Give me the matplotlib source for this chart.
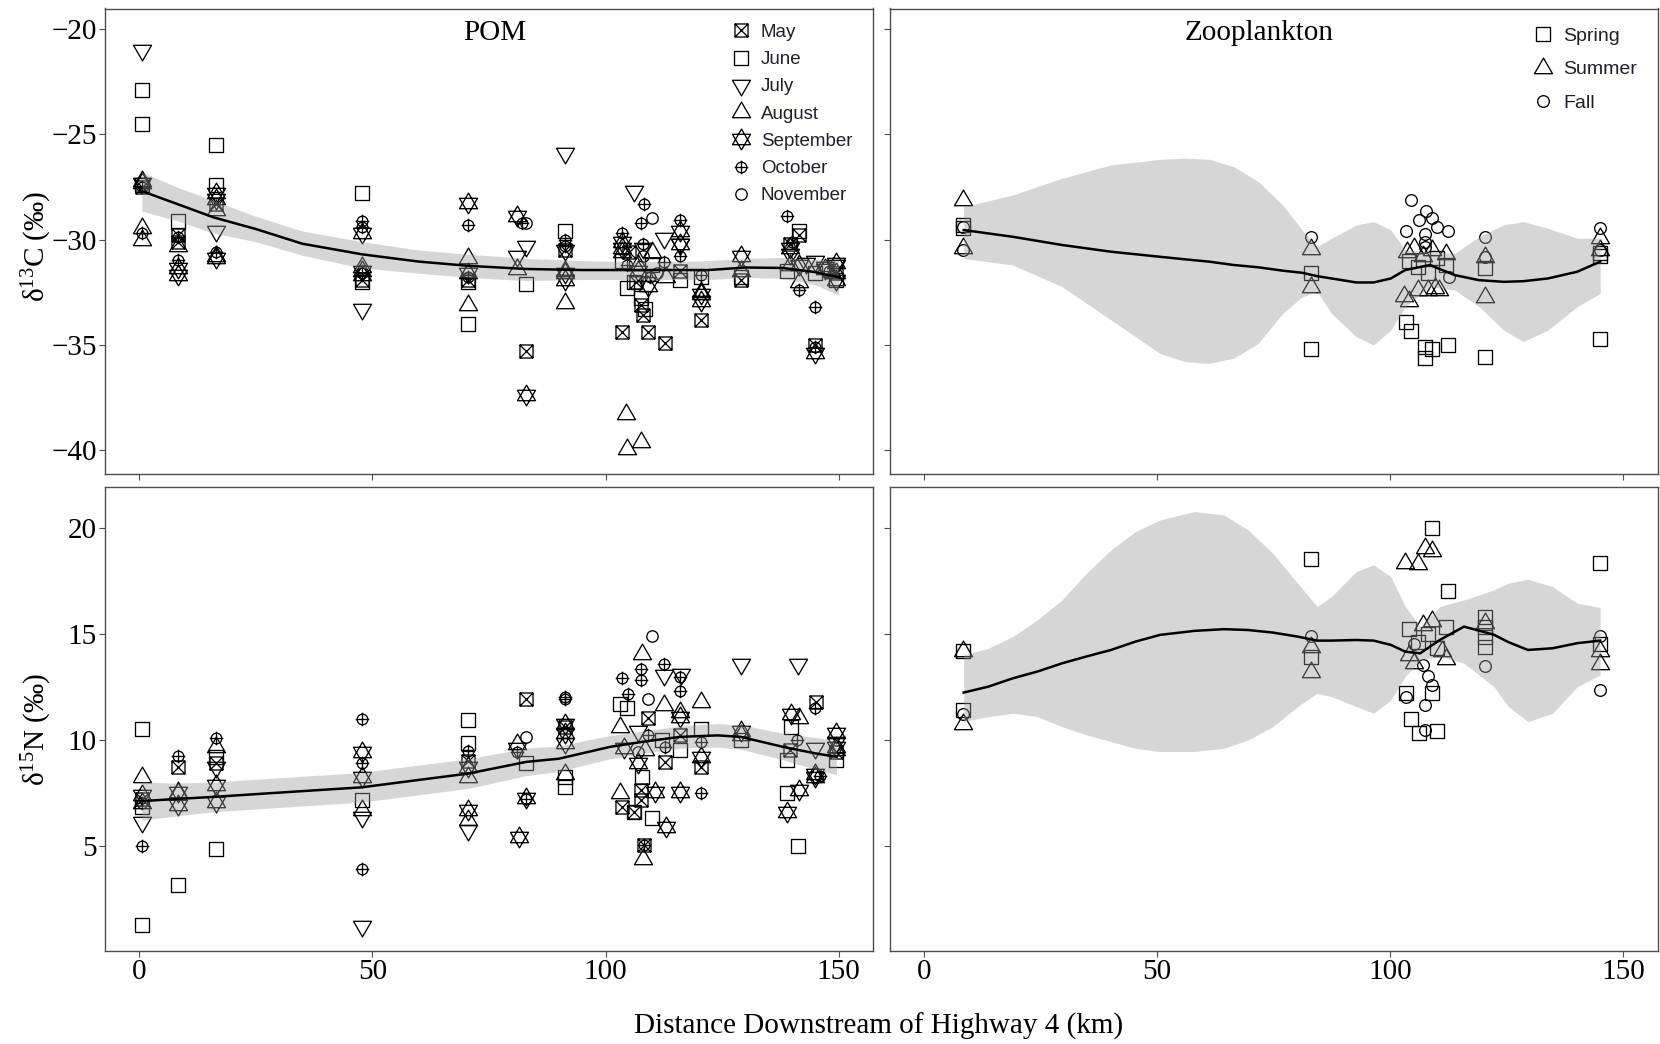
import matplotlib
matplotlib.use('Agg')
import matplotlib.pyplot as plt
from matplotlib.path import Path
from matplotlib.lines import Line2D
from matplotlib.transforms import Affine2D

plt.rcParams['font.family'] = ['Liberation Serif', 'DejaVu Serif']
plt.rcParams['mathtext.fontset'] = 'custom'
plt.rcParams['mathtext.rm'] = 'Liberation Serif'
plt.rcParams['mathtext.it'] = 'Liberation Serif:italic'

# ---------------- POM d13C (km, value) ----------------
pom_c_may = [(0.6, -27.5), (8.3, -29.8), (8.3, -30.1), (16.4, -28.3), (47.7, -31.9), (70.6, -31.9),
             (83, -35.3), (91.4, -30.5), (103.5, -34.4), (105, -30.6), (106.5, -32.0), (107.5, -33.1),
             (108, -33.6), (109, -34.4), (112.7, -34.9), (116, -31.5), (120.5, -33.8), (129, -31.9),
             (139.5, -30.2), (141.5, -29.8), (145, -35.0), (149.5, -31.6)]
pom_c_jun = [(0.6, -22.9), (0.6, -24.5), (0.6, -27.4), (8.3, -29.1), (16.4, -25.5), (16.4, -27.4),
             (47.7, -27.8), (47.7, -32.0), (70.6, -34.0), (70.6, -32.0), (83, -32.1), (91.4, -29.6),
             (103.5, -31.0), (104.5, -32.3), (106, -32.0), (107.5, -32.8), (108.5, -33.3), (110, -31.2),
             (116, -31.9), (120.5, -31.8), (129, -31.8), (139, -31.5), (141.5, -29.6), (145, -31.6),
             (149.5, -31.9)]
pom_c_jul = [(0.6, -21.0), (16.4, -29.6), (47.7, -33.3), (81, -30.8), (83, -30.3), (91.4, -25.9),
             (91.4, -30.5), (106, -27.7), (108, -30.4), (112.6, -29.95), (116, -30.2), (139.5, -30.7),
             (143, -31.1), (145, -31.0), (147, -31.3), (149.5, -31.2)]
pom_c_aug = [(0.6, -27.2), (0.6, -29.45), (0.6, -30.0), (8.3, -30.3), (16.4, -28.6), (16.4, -30.8),
             (47.7, -31.3), (47.7, -31.7), (70.6, -30.9), (70.6, -33.1), (81, -31.4), (91.4, -33.0),
             (91.4, -31.5), (103.5, -30.6), (104.3, -38.3), (104.5, -39.95), (107.7, -39.6), (107, -31.2),
             (110, -30.6), (113, -31.8), (120.5, -32.5), (129, -31.5), (139.5, -31.2), (141.5, -32.0),
             (149.5, -31.6)]
pom_c_sep = [(0.6, -27.3), (8.3, -31.35), (8.3, -31.7), (16.4, -27.8), (16.4, -28.1), (16.4, -30.9),
             (47.7, -29.7), (47.7, -31.5), (70.6, -28.25), (70.6, -31.6), (81, -28.9), (83, -37.4),
             (91.4, -31.6), (91.4, -31.9), (103.5, -30.1), (103.5, -30.4), (107, -31.5), (109, -32.2),
             (116, -29.6), (116, -30.2), (120.5, -32.6), (120.5, -32.9), (129, -30.8), (139.5, -30.4),
             (141.5, -31.2), (145, -35.4), (147, -31.4), (149.5, -31.1), (149.5, -31.9)]
pom_c_oct = [(0.6, -27.5), (0.6, -29.7), (8.3, -29.9), (8.3, -30.97), (16.4, -30.6), (47.7, -29.1),
             (47.7, -29.4), (47.7, -31.6), (70.6, -29.3), (70.6, -31.8), (82, -29.2), (91.4, -30.0),
             (91.4, -30.3), (103.5, -29.7), (104.5, -31.2), (107.5, -29.2), (108.2, -28.3), (108, -30.2),
             (109.5, -31.8), (112.6, -31.05), (116, -29.07), (116, -30.8), (120.5, -31.7), (139, -28.9),
             (140, -30.1), (141.5, -32.4), (145, -33.2), (145, -35.1), (148, -31.5)]
pom_c_nov = [(83, -29.2), (110, -29.0), (108, -30.8), (111, -31.6)]

# ---------------- POM d15N (km, value) ----------------
pom_n_may = [(0.6, 7.2), (8.3, 8.69), (16.4, 8.9), (70.6, 9.0), (83, 11.93), (91.4, 10.6), (103.5, 6.8),
             (106, 6.6), (107.5, 7.62), (107.5, 7.15), (108.2, 5.04), (109, 11.0), (112.7, 8.95),
             (116, 10.2), (120.5, 8.72), (139.5, 9.5), (145.1, 11.77), (149.5, 9.4)]
pom_n_jun = [(0.6, 10.52), (0.6, 6.8), (0.6, 1.27), (8.3, 3.15), (16.4, 9.19), (16.4, 4.85), (47.7, 7.15),
             (70.6, 10.94), (70.6, 9.84), (83, 8.88), (91.4, 8.25), (91.4, 7.78), (103, 11.7),
             (104.5, 11.48), (106, 6.6), (107.9, 8.25), (110, 6.29), (112, 10.0), (116, 9.5),
             (120.5, 10.52), (129, 10.0), (139, 9.03), (139, 7.47), (139.7, 10.6), (141.2, 4.99),
             (149.5, 9.03)]
pom_n_jul = [(0.6, 6.13), (16.4, 8.72), (47.7, 6.37), (47.7, 1.2), (70.6, 5.74), (81, 9.6), (107, 10.4),
             (112.5, 13.03), (116.1, 13.1), (129, 13.58), (141.2, 13.58), (145, 9.6), (149.5, 9.9)]
pom_n_aug = [(0.6, 8.25), (0.6, 7.0), (8.3, 7.5), (16.4, 9.66), (47.7, 6.68), (70.6, 8.25), (70.6, 6.2),
             (81, 9.8), (91.4, 8.4), (103, 10.6), (103, 7.47), (107.9, 14.05), (108, 4.36), (108.5, 9.5),
             (112.5, 11.62), (116, 11.3), (120.5, 11.77), (129, 10.2), (141.5, 11.0), (149.5, 9.5)]
pom_n_sep = [(0.6, 7.4), (8.3, 7.54), (8.3, 6.92), (16.4, 7.86), (16.4, 7.07), (47.7, 9.42), (47.7, 8.25),
             (70.6, 8.72), (70.6, 6.68), (81.5, 5.43), (83, 7.23), (91.4, 10.75), (91.4, 10.3),
             (91.4, 9.83), (104, 9.6), (107, 8.9), (110.7, 7.54), (113, 5.9), (116, 11.07), (116, 7.54),
             (120.5, 9.19), (129, 10.4), (139.7, 11.2), (139, 6.6), (141.5, 7.62), (145, 8.4),
             (145, 8.25), (149.4, 10.29), (149.4, 9.66)]
pom_n_oct = [(0.6, 4.99), (0.6, 7.0), (8.3, 9.22), (16.4, 10.1), (47.7, 10.99), (47.7, 8.9), (47.7, 3.89),
             (70.6, 9.46), (81, 9.4), (83, 7.2), (91.4, 12.0), (91.4, 11.9), (103.6, 12.92),
             (104.8, 12.17), (107.5, 13.34), (107.5, 12.79), (108.2, 5.04), (109, 10.2), (112.5, 13.58),
             (112.7, 9.66), (116, 12.95), (116, 12.3), (120.5, 9.9), (120.5, 7.47), (141, 10.0),
             (145, 11.5), (146, 8.3)]
pom_n_nov = [(83, 10.13), (110, 14.91), (109, 11.9), (107, 9.4)]

# ---------------- Zooplankton (km, value) ----------------
zoo_c_spring = [(8.3, -29.3), (8.3, -29.45), (83, -31.58), (83, -35.2), (103.3, -33.93), (104.4, -34.35),
                (107.4, -35.09), (109, -35.22), (112.4, -35.01), (107.4, -35.65), (104, -31.0),
                (106, -31.3), (108, -31.6), (110, -30.9), (112, -31.2), (120.3, -31.37), (120.3, -35.57),
                (145, -30.65), (145, -30.8), (145, -34.73)]
zoo_c_summer = [(8.3, -28.12), (8.3, -30.42), (83, -30.45), (83, -32.24), (103.5, -30.6), (105, -30.4),
                (107, -30.8), (109, -30.5), (112, -30.7), (103, -32.7), (104, -32.9), (106, -32.4),
                (108, -32.4), (109.5, -32.3), (110.5, -32.4), (120.3, -30.82), (120.3, -32.72),
                (145, -29.94), (145, -30.5)]
zoo_c_fall = [(8.3, -29.4), (8.3, -30.5), (83, -29.87), (104.5, -28.12), (107.6, -28.65), (106.1, -29.07),
              (109, -28.99), (110, -29.39), (103.4, -29.6), (112.4, -29.6), (107.5, -29.74),
              (107.5, -30.1), (107.5, -30.34), (112.5, -31.8), (120.3, -29.87), (120.3, -30.82),
              (145, -29.47), (145, -30.5)]
zoo_n_spring = [(8.3, 14.2), (8.3, 11.38), (83, 18.54), (83, 13.89), (109, 19.97), (112.4, 17.02),
                (103.4, 12.2), (109, 12.2), (104.4, 10.99), (106.1, 10.31), (110, 10.39), (104, 15.2),
                (106, 14.6), (108, 15.0), (110, 14.3), (112, 15.3), (120.3, 15.77), (120.3, 15.3),
                (120.3, 14.83), (120.3, 14.36), (145, 18.31), (145, 14.52)]
zoo_n_summer = [(8.3, 14.2), (8.3, 10.76), (83, 14.36), (83, 13.18), (107.4, 19.06), (109, 18.9),
                (103.2, 18.35), (106, 18.28), (104, 14.0), (105, 13.6), (107, 15.4), (109, 15.6),
                (111, 14.2), (112, 13.8), (120.3, 15.5), (145, 14.2), (145, 13.58)]
zoo_n_fall = [(8.3, 11.2), (83, 14.91), (103.4, 12.0), (107.5, 11.62), (107.4, 10.45), (105, 14.5),
              (107, 13.5), (108, 13.0), (109, 12.6), (120.3, 13.45), (145, 14.91), (145, 12.32)]

# ---------------- smoother fits (km, fit, lower, upper) ----------------
pom_c_km = [0.6, 8, 16, 25, 35, 47.7, 60, 70.6, 83, 95, 105, 115, 122, 130, 138, 145, 150]
pom_c_fit = [-27.7, -28.3, -28.95, -29.5, -30.2, -30.7, -31.05, -31.25, -31.4, -31.45, -31.45, -31.45,
             -31.45, -31.33, -31.35, -31.55, -31.8]
pom_c_lo = [-28.65, -29.1, -29.7, -30.1, -30.75, -31.35, -31.6, -31.8, -31.95, -31.9, -31.9, -31.9,
            -31.9, -31.8, -31.85, -32.15, -32.65]
pom_c_hi = [-26.8, -27.5, -28.15, -28.9, -29.6, -30.1, -30.5, -30.7, -30.9, -31.0, -31.05, -31.05,
            -31.0, -30.9, -30.85, -30.95, -31.0]

pom_n_km = [0.6, 8, 16, 30, 47.7, 60, 70.6, 83, 90, 101, 108, 116, 124, 129, 138, 145, 149.5]
pom_n_fit = [7.1, 7.2, 7.3, 7.5, 7.75, 8.1, 8.4, 8.95, 9.1, 9.66, 9.9, 10.13, 10.2, 10.13, 9.66, 9.35, 9.19]
pom_n_lo = [6.2, 6.4, 6.6, 6.8, 7.05, 7.4, 7.7, 8.3, 8.5, 9.1, 9.35, 9.6, 9.65, 9.55, 9.05, 8.6, 8.35]
pom_n_hi = [8.0, 7.95, 8.0, 8.2, 8.45, 8.8, 9.1, 9.6, 9.7, 10.2, 10.4, 10.65, 10.75, 10.7, 10.3, 10.1, 9.95]

zoo_c_km = [8.5, 19.0, 29.6, 40.1, 50.6, 55.9, 61.1, 66.4, 71.7, 76.9, 81.1, 84.3, 87.4, 92.7, 96.4,
            100.1, 103.2, 108.5, 113.8, 119.0, 124.3, 128.5, 133.8, 140.1, 145.0]
zoo_c_fit = [-29.55, -29.87, -30.26, -30.58, -30.82, -30.94, -31.05, -31.21, -31.32, -31.48, -31.58,
             -31.74, -31.85, -32.04, -32.04, -31.85, -31.45, -31.21, -31.69, -31.93, -32.01, -31.98,
             -31.85, -31.53, -31.05]
zoo_c_lo = [-30.9, -31.21, -32.24, -33.82, -35.41, -35.8, -35.88, -35.64, -34.93, -33.51, -32.72,
            -32.48, -33.51, -34.62, -35.01, -34.3, -33.19, -32.24, -32.4, -33.19, -34.3, -34.85, -34.3,
            -33.19, -32.56]
zoo_c_hi = [-28.44, -27.89, -27.09, -26.46, -26.19, -26.14, -26.19, -26.54, -27.25, -28.36, -29.55,
            -30.34, -29.94, -29.31, -29.15, -29.55, -30.5, -30.58, -30.66, -29.87, -29.31, -29.15,
            -29.47, -29.94, -29.94]

zoo_n_km = [8.5, 13.8, 19.0, 24.3, 29.6, 34.8, 40.1, 45.3, 50.6, 58.0, 64.3, 69.5, 74.8, 80.1, 84.3,
            87.4, 92.7, 96.4, 100.1, 103.2, 106.4, 110.6, 115.8, 122.2, 125.3, 129.5, 134.8, 140.1, 145.0]
zoo_n_fit = [12.22, 12.5, 12.89, 13.21, 13.6, 13.92, 14.23, 14.62, 14.94, 15.13, 15.21, 15.17, 15.05,
             14.86, 14.67, 14.67, 14.7, 14.67, 14.47, 14.15, 14.07, 14.7, 15.33, 14.95, 14.6, 14.23,
             14.31, 14.55, 14.67]
zoo_n_lo = [10.85, 11.09, 11.24, 11.09, 10.61, 10.22, 9.91, 9.59, 9.44, 9.44, 9.59, 9.99, 10.61, 11.56,
            12.19, 12.03, 11.56, 11.24, 11.87, 12.97, 13.76, 13.92, 13.6, 12.5, 11.56, 10.85, 11.24,
            12.5, 13.05]
zoo_n_hi = [14.0, 14.31, 14.86, 15.65, 16.59, 17.85, 18.95, 19.81, 20.36, 20.76, 20.6, 19.89, 18.79,
            17.38, 16.28, 16.75, 17.93, 18.24, 17.69, 16.28, 15.33, 16.28, 16.59, 17.06, 17.38, 17.56,
            17.22, 16.43, 16.24]

month_labels = ['May', 'June', 'July', 'August', 'September', 'October', 'November']
season_labels = ['Spring', 'Summer', 'Fall']

# ---------------- marker shapes (ggplot-like) ----------------
M, L, C = Path.MOVETO, Path.LINETO, Path.CLOSEPOLY
sq_cross = Path([(-1, -1), (1, -1), (1, 1), (-1, 1), (-1, -1), (-1, -1), (1, 1), (-1, 1), (1, -1)],
                [M, L, L, L, C, M, L, M, L])
square = Path([(-1, -1), (1, -1), (1, 1), (-1, 1), (-1, -1)], [M, L, L, L, C])
tri_up = Path([(-1, -0.577), (1, -0.577), (0, 1.155), (-1, -0.577)], [M, L, L, C])
tri_dn = Path([(-1, 0.577), (1, 0.577), (0, -1.155), (-1, 0.577)], [M, L, L, C])
star = Path.make_compound_path(tri_up, tri_dn)
circ = Path.unit_circle()
circ_plus = Path.make_compound_path(
    Affine2D().scale(0.78).transform_path(circ),
    Path([(-1, 0), (1, 0), (0, -1), (0, 1)], [M, L, M, L]))

month_style = [(sq_cross, 9.4), (square, 9.4), (tri_dn, 15), (tri_up, 15), (star, 15),
               (circ_plus, 9.8), (circ, 8.2)]
season_style = [(square, 9.6), (tri_up, 15), (circ, 8.4)]

EDGE = '#4d4d4d'


def scatter(ax, pts, style):
    xs = [p[0] for p in pts]
    ys = [p[1] for p in pts]
    ax.plot(xs, ys, ls='none', marker=style[0], ms=style[1], mfc='none', mec='black', mew=0.95,
            zorder=2, clip_on=True)


def smooth(ax, km, fit, lo, hi):
    ax.fill_between(km, lo, hi, color='#999999', alpha=0.4, lw=0, zorder=3)
    ax.plot(km, fit, color='black', lw=1.8, zorder=4)


fig = plt.figure(figsize=(16.6, 10.44), dpi=100)
W, H = 1660.0, 1044.0
ax_tl = fig.add_axes([105 / W, 1 - 474.3 / H, 768.3 / W, 465.8 / H])
ax_tr = fig.add_axes([890 / W, 1 - 474.3 / H, 768.0 / W, 465.8 / H])
ax_bl = fig.add_axes([105 / W, 1 - 951 / H, 768.3 / W, 464.3 / H])
ax_br = fig.add_axes([890 / W, 1 - 951 / H, 768.0 / W, 464.3 / H])

for pts, st in zip([pom_c_may, pom_c_jun, pom_c_jul, pom_c_aug, pom_c_sep, pom_c_oct, pom_c_nov],
                   month_style):
    scatter(ax_tl, pts, st)
for pts, st in zip([pom_n_may, pom_n_jun, pom_n_jul, pom_n_aug, pom_n_sep, pom_n_oct, pom_n_nov],
                   month_style):
    scatter(ax_bl, pts, st)
for pts, st in zip([zoo_c_spring, zoo_c_summer, zoo_c_fall], season_style):
    scatter(ax_tr, pts, st)
for pts, st in zip([zoo_n_spring, zoo_n_summer, zoo_n_fall], season_style):
    scatter(ax_br, pts, st)

smooth(ax_tl, pom_c_km, pom_c_fit, pom_c_lo, pom_c_hi)
smooth(ax_bl, pom_n_km, pom_n_fit, pom_n_lo, pom_n_hi)
smooth(ax_tr, zoo_c_km, zoo_c_fit, zoo_c_lo, zoo_c_hi)
smooth(ax_br, zoo_n_km, zoo_n_fit, zoo_n_lo, zoo_n_hi)

for ax in (ax_tl, ax_tr, ax_bl, ax_br):
    ax.set_xlim(-7.3, 157.4)
    ax.set_xticks([0, 50, 100, 150])
    for sp in ax.spines.values():
        sp.set_color(EDGE)
        sp.set_linewidth(1.0)
    ax.tick_params(direction='out', length=4.3, width=0.8, color=EDGE, labelsize=21, pad=1.5,
                   labelcolor='black')
for ax in (ax_tl, ax_tr):
    ax.set_ylim(-41.15, -19.03)
    ax.set_yticks([-40, -35, -30, -25, -20])
    ax.tick_params(labelbottom=False)
for ax in (ax_bl, ax_br):
    ax.set_ylim(0.03, 21.93)
    ax.set_yticks([5, 10, 15, 20])
for ax in (ax_tr, ax_br):
    ax.tick_params(labelleft=False)

ax_tl.text(0.5076, 0.947, 'POM', transform=ax_tl.transAxes, ha='center', va='center', fontsize=21)
ax_tr.text(0.4805, 0.947, 'Zooplankton', transform=ax_tr.transAxes, ha='center', va='center',
           fontsize=21)

leg_font = {'family': ['Liberation Sans', 'DejaVu Sans'], 'size': 13.5}
h_m = [Line2D([], [], ls='none', marker=s[0], ms=s[1], mfc='none', mec='black', mew=0.95)
       for s in month_style]
ax_tl.legend(h_m, month_labels, loc='upper left', bbox_to_anchor=(0.8135, 0.967), frameon=False,
             prop=leg_font, labelspacing=0.54, handlelength=1.2, handletextpad=0.45, borderpad=0,
             borderaxespad=0, labelcolor='#1f1f30')
h_s = [Line2D([], [], ls='none', marker=s[0], ms=s[1], mfc='none', mec='black', mew=0.95)
       for s in season_style]
ax_tr.legend(h_s, season_labels, loc='upper left', bbox_to_anchor=(0.8346, 0.959), frameon=False,
             prop={'family': ['Liberation Sans', 'DejaVu Sans'], 'size': 14}, labelspacing=0.8,
             handlelength=1.2, handletextpad=0.45, borderpad=0, borderaxespad=0, labelcolor='#1f1f30')

fig.text(0.0223, 1 - 246 / H, 'δ$^{13}$C (‰)', rotation=90, ha='center', va='center', fontsize=21)
fig.text(0.0223, 1 - 730 / H, 'δ$^{15}$N (‰)', rotation=90, ha='center', va='center', fontsize=21)
fig.text(0.5295, 1 - 1026 / H, 'Distance Downstream of Highway 4 (km)', ha='center', va='center',
         fontsize=21)

fig.set_facecolor('white')
fig.savefig('out.png', dpi=100, facecolor='white')
